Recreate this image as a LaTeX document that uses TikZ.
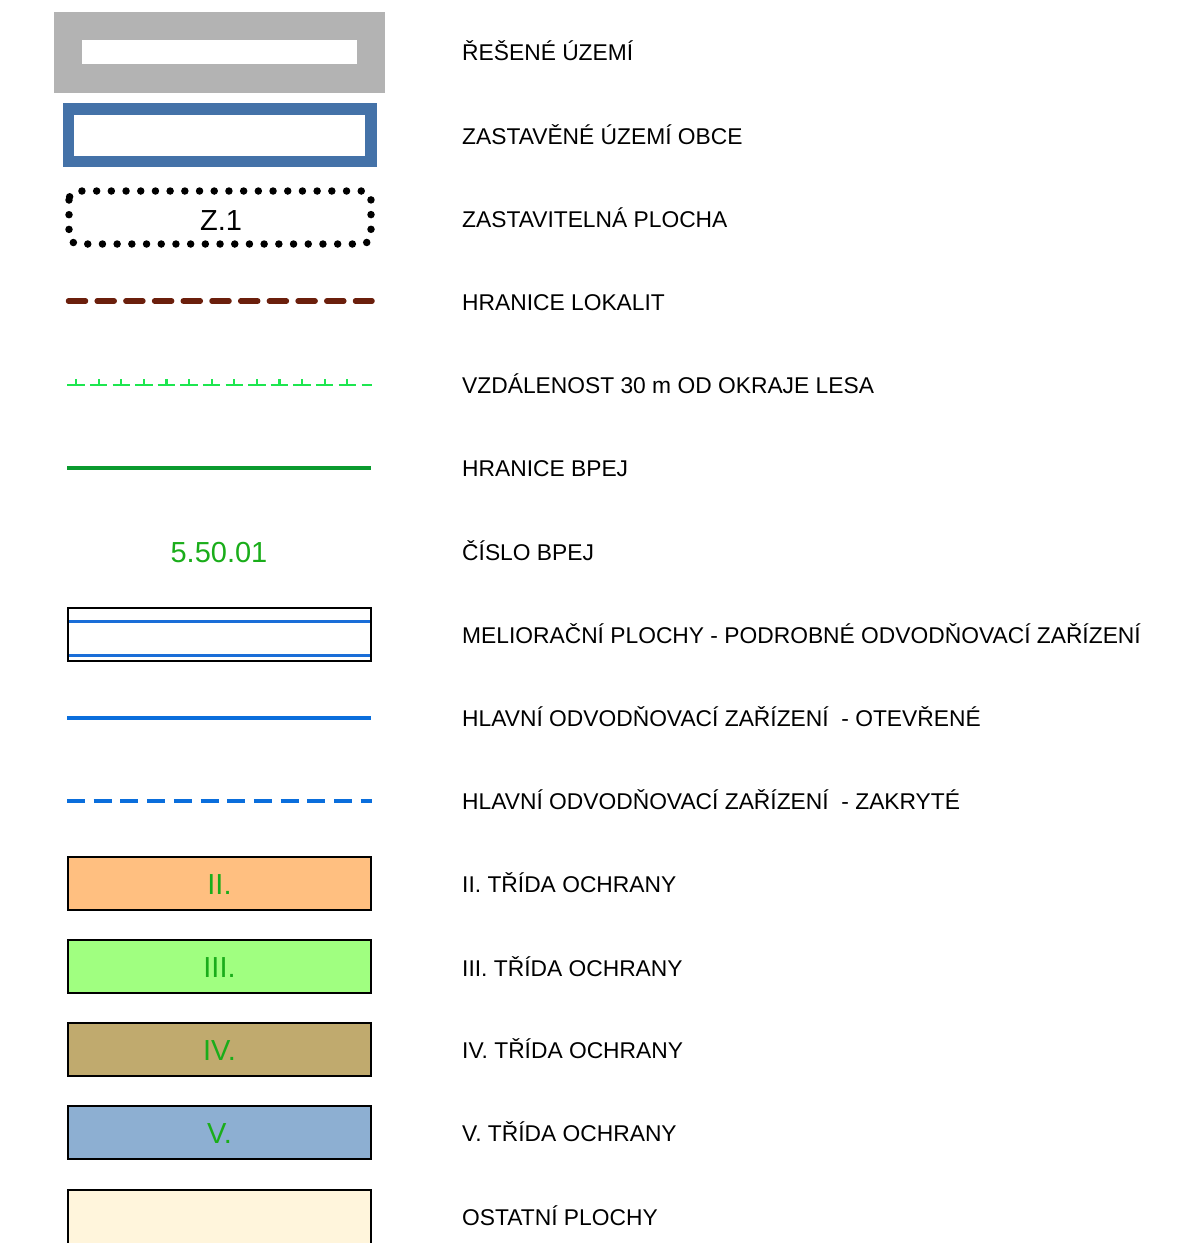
\documentclass[tikz,border=0pt]{standalone}
\usepackage{fontspec}
\setmainfont{Liberation Sans}
\definecolor{rgray}{HTML}{B3B3B3}
\definecolor{zblue}{HTML}{4472A8}
\definecolor{lbrown}{HTML}{6B1F0C}
\definecolor{tgreen}{HTML}{1EE650}
\definecolor{bgreen}{HTML}{0A9A2E}
\definecolor{txgreen}{HTML}{1AAD1A}
\definecolor{meliblue}{HTML}{1A6ED8}
\definecolor{hblue}{HTML}{0A6EDC}
\definecolor{cII}{HTML}{FFBF80}
\definecolor{cIII}{HTML}{A0FF80}
\definecolor{cIV}{HTML}{C0AA6E}
\definecolor{cV}{HTML}{8DAFD2}
\definecolor{cOst}{HTML}{FFF5DC}
\begin{document}
\begin{tikzpicture}[x=1pt,y=-1pt,
  lbl/.style={anchor=base west,inner sep=0pt,font=\fontsize{22.8}{26}\selectfont},
  bigtxt/.style={anchor=base,inner sep=0pt,font=\fontsize{29}{33}\selectfont},
  classbox/.style={draw=black,line width=1.6pt}]
\useasboundingbox (0,0) rectangle (1179,1243);
% 1 reseny uzemi
\fill[rgray] (54,12) rectangle (385,93);
\fill[white] (82,40) rectangle (357,64);
% 2 zastavene uzemi
\draw[zblue,line width=11.5pt] (68.5,109) rectangle (371,161.5);
% 3 zastavitelna plocha
\draw[black,line width=7.5pt,line cap=round,dash pattern=on 0pt off 14.7pt,rounded corners=9pt] (69,191) rectangle (371,244);
\node[bigtxt] (z1) at (221,230) {Z.1};
% 4 hranice lokalit
\draw[lbrown,line width=5.5pt,line cap=round,dash pattern=on 17pt off 11.7pt] (68.5,301) -- (372,301);
% 5 30 m od lesa
\foreach \i in {0,...,12}{
  \draw[tgreen,line width=2.4pt] ({67.3+22.6*\i},385) -- ({84.8+22.6*\i},385);
  \draw[tgreen,line width=2.2pt] ({76+22.6*\i},385) -- ({76+22.6*\i},378.5);
}
\draw[tgreen,line width=2.4pt] (361.5,385) -- (371.5,385);
% 6 hranice BPEJ
\draw[bgreen,line width=4pt] (67,468) -- (371,468);
% 7 cislo BPEJ
\node[bigtxt,text=txgreen] (bpej) at (219,562) {5.50.01};
% 8 melioracni plochy
\draw[black,line width=1.8pt] (68,608) rectangle (371,661);
\draw[meliblue,line width=2.2pt] (69,621.5) -- (370,621.5);
\draw[meliblue,line width=2.2pt] (69,655.5) -- (370,655.5);
% 9 otevrene
\draw[hblue,line width=4pt] (67,718) -- (371,718);
% 10 zakryte
\draw[hblue,line width=4pt,dash pattern=on 18pt off 8.7pt] (67,801) -- (372,801);
% 11-15 tridy
\draw[classbox,fill=cII] (68,857) rectangle (371,910);
\node[bigtxt,text=txgreen] (t2) at (219.5,894) {II.};
\draw[classbox,fill=cIII] (68,940) rectangle (371,993);
\node[bigtxt,text=txgreen] (t3) at (219.5,977) {III.};
\draw[classbox,fill=cIV] (68,1023) rectangle (371,1076);
\node[bigtxt,text=txgreen] (t4) at (219.5,1060) {IV.};
\draw[classbox,fill=cV] (68,1106) rectangle (371,1159);
\node[bigtxt,text=txgreen] (t5) at (219.5,1143) {V.};
\draw[classbox,fill=cOst] (68,1190) rectangle (371,1250);
% labels
\node[lbl] (l1) at (462,60) {ŘEŠENÉ ÚZEMÍ};
\node[lbl] (l2) at (462,144) {ZASTAVĚNÉ ÚZEMÍ OBCE};
\node[lbl] (l3) at (462,227) {ZASTAVITELNÁ PLOCHA};
\node[lbl] (l4) at (462,310) {HRANICE LOKALIT};
\node[lbl] (l5) at (462,393) {VZDÁLENOST 30 m OD OKRAJE LESA};
\node[lbl] (l6) at (462,476) {HRANICE BPEJ};
\node[lbl] (l7) at (462,560) {ČÍSLO BPEJ};
\node[lbl] (l8) at (462,643) {MELIORAČNÍ PLOCHY - PODROBNÉ ODVODŇOVACÍ ZAŘÍZENÍ};
\node[lbl] (l9) at (462,726) {HLAVNÍ ODVODŇOVACÍ ZAŘÍZENÍ \ - OTEVŘENÉ};
\node[lbl] (l10) at (462,809) {HLAVNÍ ODVODŇOVACÍ ZAŘÍZENÍ \ - ZAKRYTÉ};
\node[lbl] (l11) at (462,892) {II. TŘÍDA OCHRANY};
\node[lbl] (l12) at (462,976) {III. TŘÍDA OCHRANY};
\node[lbl] (l13) at (462,1058) {IV. TŘÍDA OCHRANY};
\node[lbl] (l14) at (462,1141) {V. TŘÍDA OCHRANY};
\node[lbl] (l15) at (462,1225) {OSTATNÍ PLOCHY};
\end{tikzpicture}
\end{document}
